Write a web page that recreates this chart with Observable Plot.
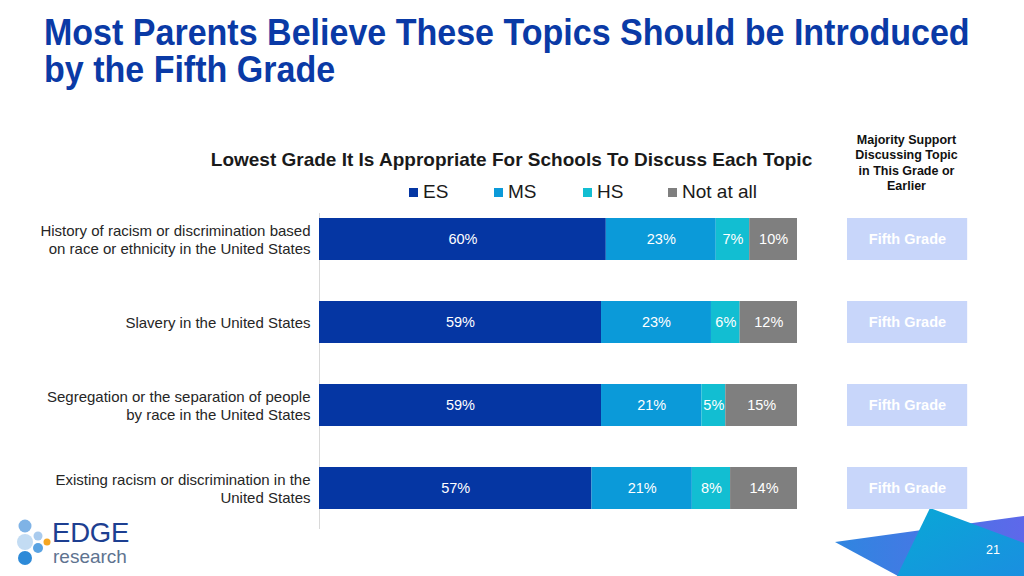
<!DOCTYPE html>
<html><head><meta charset="utf-8">
<script src="https://cdn.jsdelivr.net/npm/d3@7"></script>
<script src="https://cdn.jsdelivr.net/npm/@observablehq/plot@0.6"></script>
<style>
body{margin:0;background:#fff;font-family:"Liberation Sans",Arial,sans-serif;}
#page{position:relative;width:1024px;height:576px;overflow:hidden;background:#fff;}
.abs{position:absolute;}
#title{left:44px;top:14px;font-size:36px;font-weight:bold;color:#0a3aa6;line-height:37px;white-space:nowrap;transform:scaleX(0.945);transform-origin:0 0;}
#subtitle{left:0;width:1023px;top:149px;text-align:center;font-size:19px;font-weight:bold;color:#1a1a1a;white-space:nowrap;}
#legend{left:0;top:181px;height:24px;}
.li{position:absolute;top:0;font-size:19px;color:#1a1a1a;white-space:nowrap;}
.li span{display:inline-block;width:9px;height:9px;margin-right:5px;vertical-align:1px;}
#maj{left:851px;width:111px;top:133px;text-align:center;font-size:12.5px;font-weight:bold;line-height:15.3px;color:#111;}
#pnum{left:986px;top:543px;font-size:12.5px;color:#fff;}
#chart{left:0;top:0;}
</style></head>
<body><div id="page">
<svg class="abs" style="left:0;top:0" width="1024" height="576">
  <defs>
    <linearGradient id="g1" x1="0" y1="0" x2="1" y2="0">
      <stop offset="0" stop-color="#2f86e0"/><stop offset="1" stop-color="#5e68ea"/>
    </linearGradient>
    <linearGradient id="g2" x1="0" y1="0" x2="1" y2="1">
      <stop offset="0" stop-color="#08a8d6"/><stop offset="1" stop-color="#1a8fe0"/>
    </linearGradient>
  </defs>
  <polygon points="835,542 1024,516 1024,576 898,576" fill="url(#g1)"/>
  <polygon points="930,508 1024,543 1024,576 897,576" fill="url(#g2)"/>
  <circle cx="25" cy="526" r="6.5" fill="#7fb3e6"/>
  <circle cx="25" cy="542" r="8" fill="#c3dcf3"/>
  <circle cx="38" cy="536" r="4.5" fill="#a9cbee"/>
  <circle cx="38" cy="548" r="5" fill="#5aa3e2"/>
  <circle cx="47" cy="542" r="3.5" fill="#f5a623"/>
  <circle cx="25" cy="558" r="7" fill="#2d8ad8"/>
  <text x="52" y="542" font-family="Liberation Sans, Arial" font-size="27.5" fill="#1d3f91" letter-spacing="-0.2">EDGE</text>
  <text x="53" y="563" font-family="Liberation Sans, Arial" font-size="19" fill="#5e7390">research</text>
</svg>
<div id="chart" class="abs"></div>
<div id="title" class="abs">Most Parents Believe These Topics Should be Introduced<br>by the Fifth Grade</div>
<div id="subtitle" class="abs">Lowest Grade It Is Appropriate For Schools To Discuss Each Topic</div>
<div id="legend" class="abs"></div>
<div id="maj" class="abs">Majority Support Discussing Topic in This Grade or Earlier</div>
<div id="pnum" class="abs">21</div>
</div>
<script>
const topics = [
  "History of racism or discrimination based\non race or ethnicity in the United States",
  "Slavery in the United States",
  "Segregation or the separation of people\nby race in the United States",
  "Existing racism or discrimination in the\nUnited States"
];
const series = ["ES", "MS", "HS", "Not at all"];
const esValues = [60, 59, 59, 57];
const msValues = [23, 23, 21, 21];
const hsValues = [7, 6, 5, 8];
const notAtAllValues = [10, 12, 15, 14];
const majorityGrade = ["Fifth Grade", "Fifth Grade", "Fifth Grade", "Fifth Grade"];
const colors = ["#0536a3", "#0b9ad9", "#12bed2", "#7f7f7f"];

const valuesBySeries = [esValues, msValues, hsValues, notAtAllValues];
const rows = [];
topics.forEach((t, i) => series.forEach((s, j) => rows.push({topic: t, series: s, value: valuesBySeries[j][i]})));
const maj = topics.map((t, i) => ({topic: t, label: majorityGrade[i]}));

const legendX = [409, 494, 583, 668];
const leg = document.getElementById("legend");
series.forEach((s, j) => {
  const d = document.createElement("div");
  d.className = "li";
  d.style.left = legendX[j] + "px";
  d.innerHTML = `<span style="background:${colors[j]}"></span>${s}`;
  leg.appendChild(d);
});

const chart = Plot.plot({
  width: 1024,
  height: 576,
  marginLeft: 319,
  marginRight: 227,
  marginTop: 213,
  marginBottom: 47,
  style: {fontFamily: "Liberation Sans, Arial, sans-serif", fontSize: "14px", background: "transparent", overflow: "visible"},
  x: {domain: [0, 100], axis: null},
  y: {domain: topics, range: [176.5, 550], padding: 0.5, axis: null},
  color: {domain: series, range: colors},
  marks: [
    Plot.ruleX([0], {stroke: "#d9d9d9", strokeWidth: 1}),
    Plot.barX(rows, {x: "value", y: "topic", fill: "series", order: series}),
    Plot.text(rows, Plot.stackX({x: "value", y: "topic", z: "series", order: series, text: d => d.value + "%", fill: "white", fontSize: 14.5})),
    Plot.text(topics, {y: d => d, frameAnchor: "left", dx: -9, textAnchor: "end", lineHeight: 1.2, fill: "#262626", fontSize: 15}),
    Plot.barX(maj, {x1: () => 110.46, x2: () => 135.6, y: "topic", fill: "#c8d6fa"}),
    Plot.text(maj, {x: () => 123.0, y: "topic", text: "label", fill: "white", fontWeight: "bold", fontSize: 14.5})
  ]
});
document.getElementById("chart").appendChild(chart);
</script>
</body></html>
